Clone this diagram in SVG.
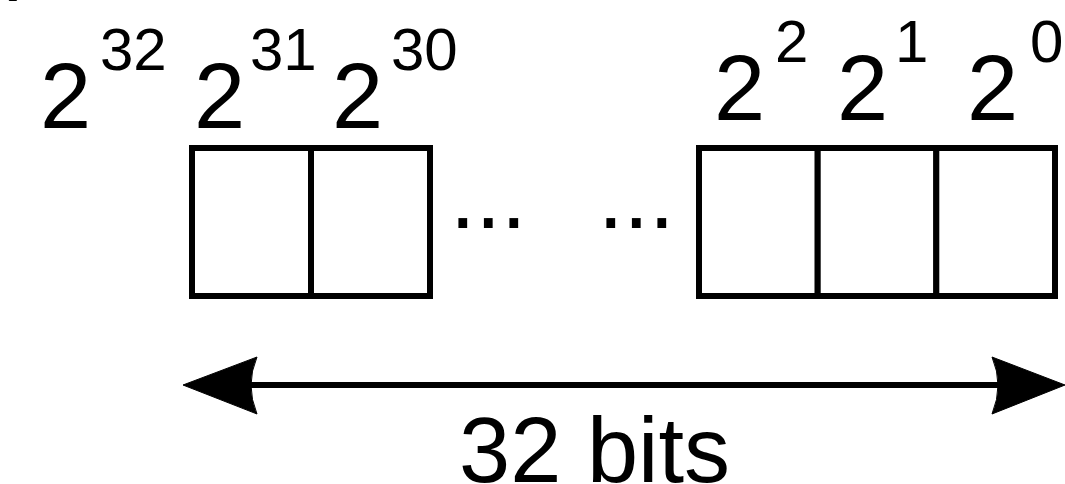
<svg xmlns="http://www.w3.org/2000/svg" width="1065" height="484" viewBox="0 0 1065 484">
<style>
text{font-family:"Liberation Sans",Arial,sans-serif;fill:#000}
.big{font-size:92px}
.sup{font-size:60px}
.cell{fill:#fff;stroke:#000;stroke-width:6}
.line{stroke:#000;stroke-width:6;fill:none}
.head{fill:#000;stroke:#000;stroke-width:1;stroke-linejoin:round}
</style>
<rect width="1065" height="484" fill="#fff"/>
<text class="big" x="8" y="-18">)</text>
<g id="label-2-32"><text class="big" x="40" y="128">2</text><text class="sup" x="100" y="70">32</text></g>
<g id="label-2-31"><text class="big" x="194" y="128">2</text><text class="sup" x="250" y="70">31</text></g>
<g id="label-2-30"><text class="big" x="332" y="128">2</text><text class="sup" x="391" y="70">30</text></g>
<g id="label-2-2"><text class="big" x="714" y="120">2</text><text class="sup" x="775" y="62">2</text></g>
<g id="label-2-1"><text class="big" x="837" y="120">2</text><text class="sup" x="895" y="62">1</text></g>
<g id="label-2-0"><text class="big" x="967" y="120">2</text><text class="sup" x="1030" y="62">0</text></g>
<g id="bit31"><rect class="cell" x="192" y="148" width="119" height="148"/></g>
<g id="bit30"><rect class="cell" x="311" y="148" width="119" height="148"/></g>
<g id="dots-left"><text class="big" x="450" y="228">...</text></g>
<g id="dots-right"><text class="big" x="598" y="228">...</text></g>
<g id="bit2"><rect class="cell" x="699" y="148" width="118.7" height="148"/></g>
<g id="bit1"><rect class="cell" x="817.7" y="148" width="118.6" height="148"/></g>
<g id="bit0"><rect class="cell" x="936.3" y="148" width="118.7" height="148"/></g>
<g id="connectors">
<path class="line" d="M249,385 H998"/>
<path class="head" d="M183,385 L257,357 Q245,385 257,414 Z"/>
<path class="head" d="M1065,385 L992,357 Q1004,385 992,414 Z"/>
</g>
<g id="caption"><text class="big" x="459" y="482">32 bits</text></g>
</svg>
